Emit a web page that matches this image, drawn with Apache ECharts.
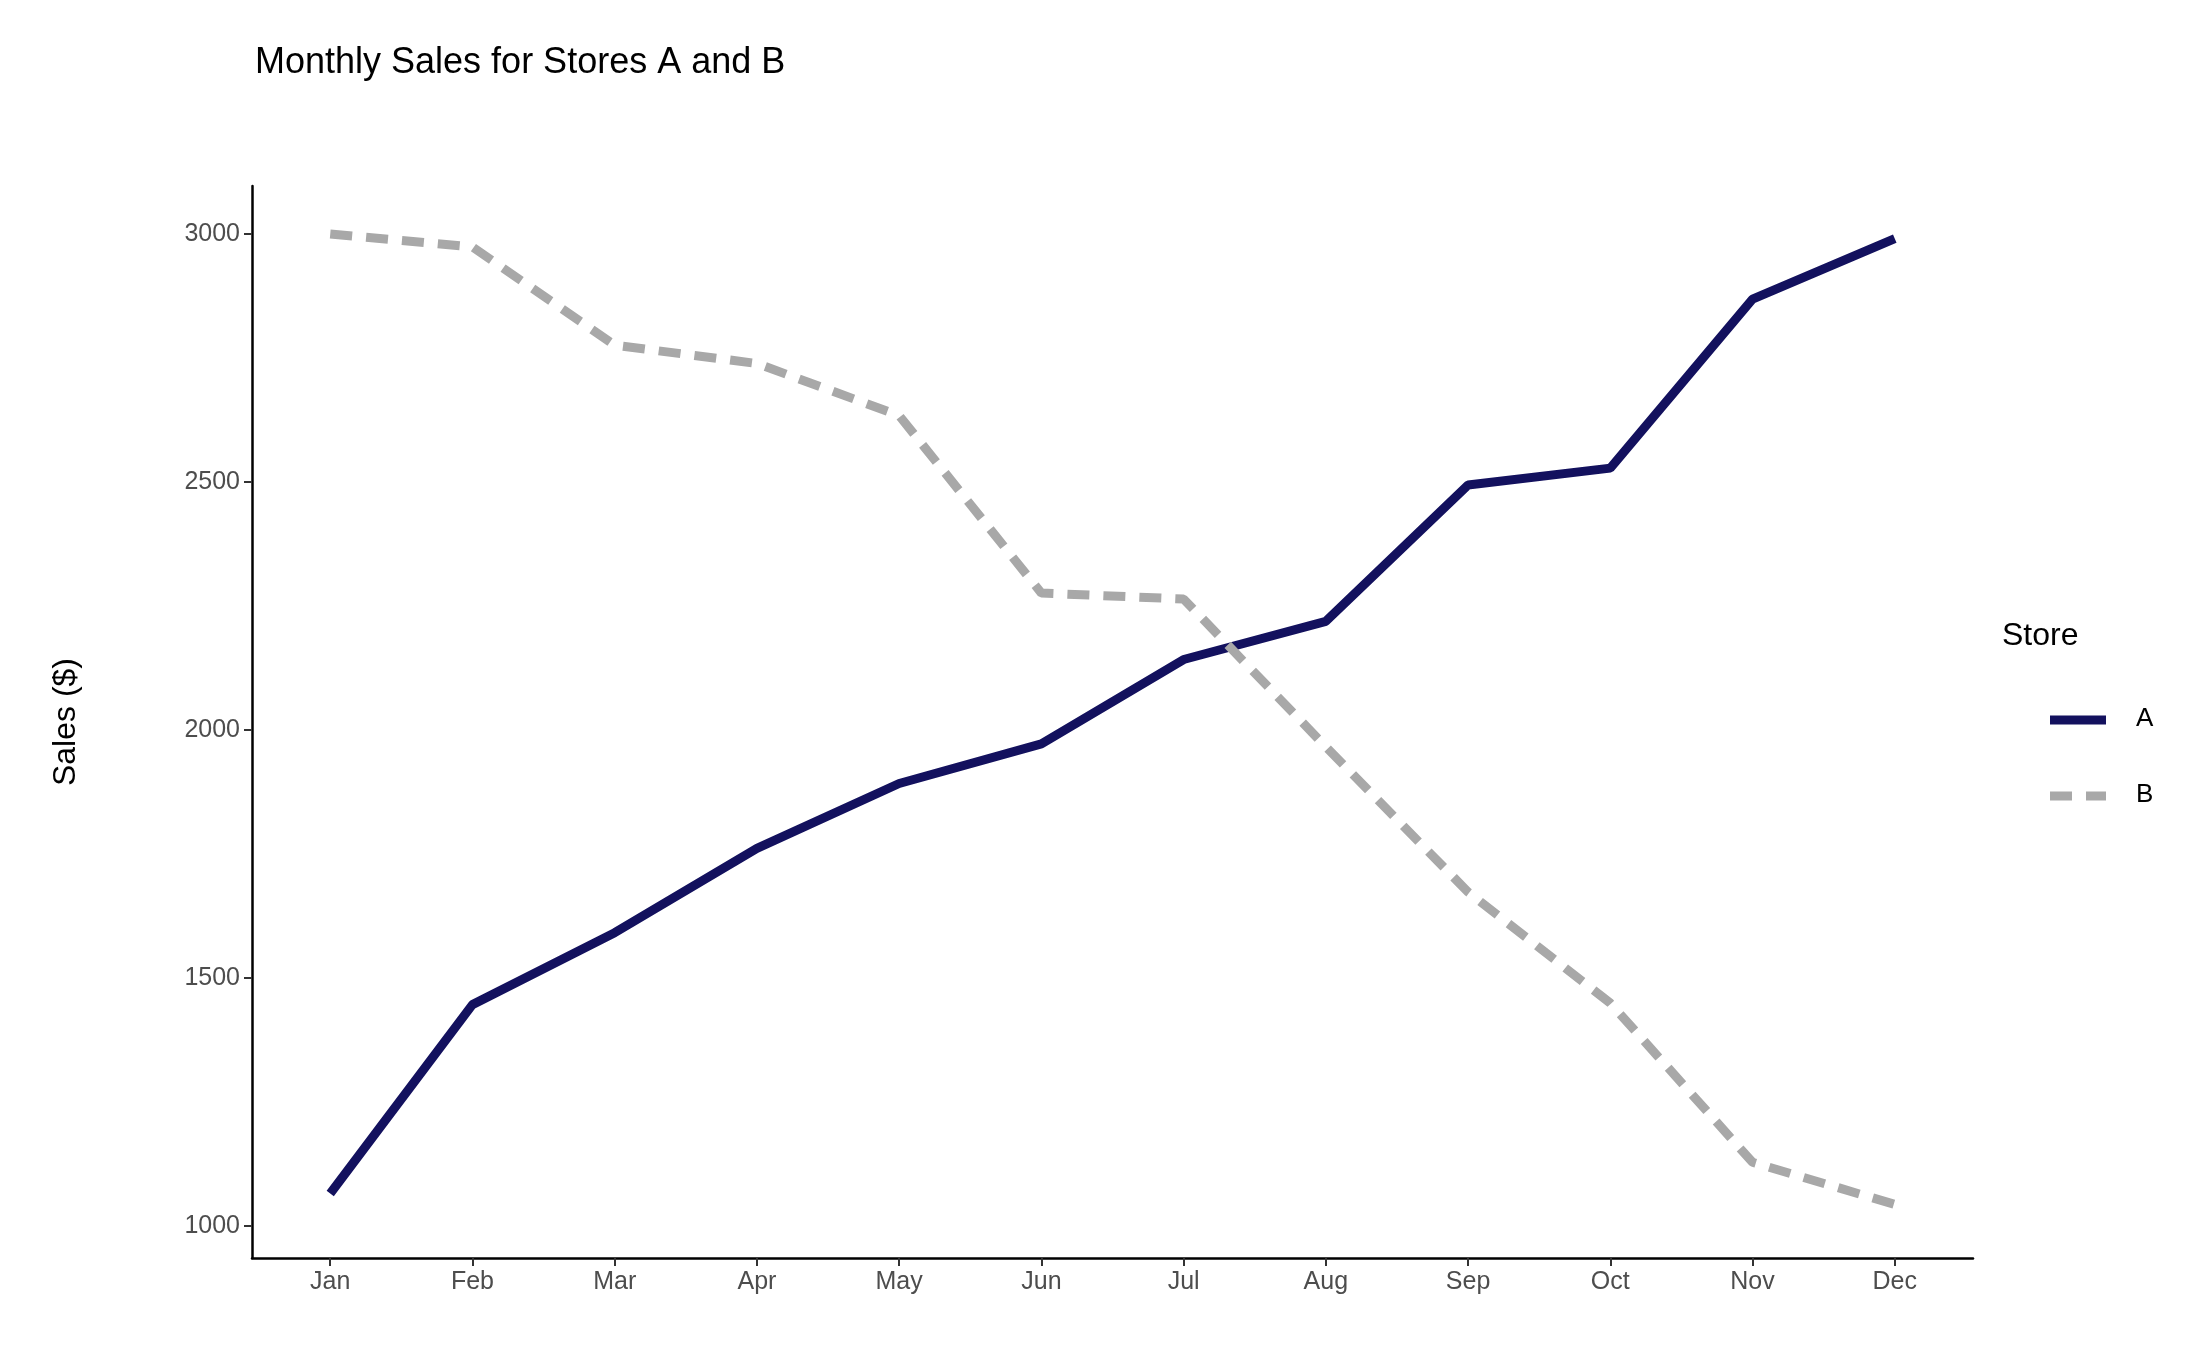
<!DOCTYPE html>
<html><head><meta charset="utf-8">
<script src="https://cdn.jsdelivr.net/npm/echarts@6/dist/echarts.min.js"></script>
<style>html,body{margin:0;background:#fff}#c{width:2187px;height:1351px}</style>
</head><body><div id="c"></div>
<script>
const months = ['Jan','Feb','Mar','Apr','May','Jun','Jul','Aug','Sep','Oct','Nov','Dec'];
const storeA = [1065,1446,1591,1761,1892,1972,2142,2219,2494,2528,2869,2991];
const storeB = [3000,2974,2776,2739,2634,2276,2264,1966,1673,1449,1128,1043];
const yTicks = [1000,1500,2000,2500,3000];
const idx = months.map((m,i)=>i);
const chart = echarts.init(document.getElementById('c'));
const font = 'Liberation Sans, Arial, sans-serif';
const colA = '#13115e', colB = '#a8a8a8';
chart.setOption({
  animation:false,
  title:{text:'Monthly Sales for Stores A and B',left:250,top:40,textStyle:{fontFamily:font,fontSize:36,fontWeight:'normal',color:'#000'}},
  grid:{left:252,right:214,top:186,bottom:93},
  legend:{show:false},
  graphic:[
    {type:'text',left:2002,top:620,style:{text:'Store',fontFamily:font,fontSize:32,fill:'#000'}},
    {type:'line',shape:{x1:2050,y1:720,x2:2106,y2:720},style:{stroke:colA,lineWidth:9}},
    {type:'line',shape:{x1:2050,y1:796,x2:2106,y2:796},style:{stroke:colB,lineWidth:9,lineDash:[22,14]}},
    {type:'text',left:2136,top:706,style:{text:'A',fontFamily:font,fontSize:26,fill:'#000'}},
    {type:'text',left:2136,top:782,style:{text:'B',fontFamily:font,fontSize:26,fill:'#000'}}
  ],
  xAxis:{type:'value',min:-0.55,max:11.55,
    axisLine:{onZero:false,lineStyle:{color:'#000',width:2.5}},
    axisTick:{customValues:idx,length:8,lineStyle:{color:'#333',width:2}},
    axisLabel:{customValues:idx,formatter:v=>months[Math.round(v)],fontFamily:font,fontSize:25,color:'#4d4d4d',margin:12},
    splitLine:{show:false}},
  yAxis:{type:'value',min:935,max:3097,name:'Sales ($)',nameLocation:'middle',nameGap:170,
    nameTextStyle:{fontFamily:font,fontSize:32,color:'#000'},
    axisLine:{show:true,onZero:false,lineStyle:{color:'#000',width:2.5}},
    axisTick:{show:true,customValues:yTicks,length:8,lineStyle:{color:'#333',width:2}},
    axisLabel:{customValues:yTicks,formatter:v=>String(v),fontFamily:font,fontSize:25,color:'#4d4d4d',margin:12},
    splitLine:{show:false}},
  series:[
    {name:'A',type:'line',symbol:'none',data:storeA.map((v,i)=>[i,v]),lineStyle:{color:colA,width:9}},
    {name:'B',type:'line',symbol:'none',data:storeB.map((v,i)=>[i,v]),lineStyle:{color:colB,width:9,type:[22,14]}}
  ]
});
</script></body></html>
